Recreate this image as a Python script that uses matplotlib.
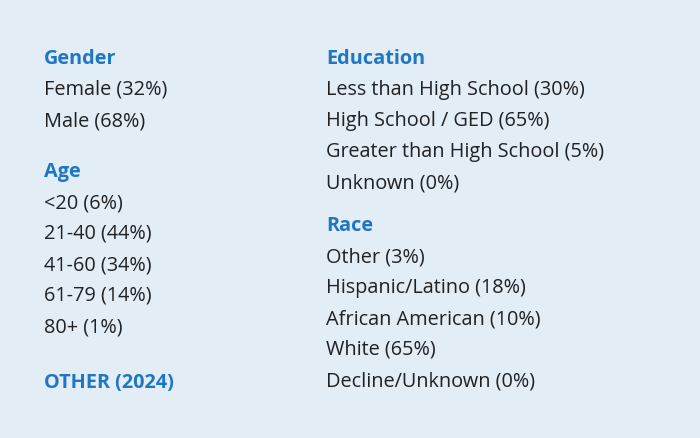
import matplotlib
matplotlib.use("Agg")
import matplotlib.pyplot as plt

gender_labels = ["Female", "Male"]
gender_pct = [32, 68]
age_labels = ["<20", "21-40", "41-60", "61-79", "80+"]
age_pct = [6, 44, 34, 14, 1]
edu_labels = ["Less than High School", "High School / GED", "Greater than High School", "Unknown"]
edu_pct = [30, 65, 5, 0]
race_labels = ["Other", "Hispanic/Latino", "African American", "White", "Decline/Unknown"]
race_pct = [3, 18, 10, 65, 0]
footer = "OTHER (2024)"

W, H = 700, 438
fig = plt.figure(figsize=(7, 4.38), dpi=100)
fig.patch.set_facecolor("#e3edf6")
HEAD = "#1f77c4"
TXT = "#222222"
FONT = "Open Sans"

def put(x, y, s, color, bold=False, size=14.3):
    fig.text(x / W, 1 - y / H, s, color=color, fontsize=size, family=FONT,
             fontweight="bold" if bold else "normal", va="center", ha="left")

def block(x, y, title, labels, pct):
    put(x, y, title, HEAD, bold=True)
    for i, (l, p) in enumerate(zip(labels, pct)):
        put(x, y + 31 * (i + 1), f"{l} ({p}%)", TXT)

block(44, 59, "Gender", gender_labels, gender_pct)
block(44, 172, "Age", age_labels, age_pct)
put(44, 383, footer, HEAD, bold=True)
block(326, 59, "Education", edu_labels, edu_pct)
block(326, 226, "Race", race_labels, race_pct)

fig.savefig("out.png", dpi=100, facecolor=fig.get_facecolor())
